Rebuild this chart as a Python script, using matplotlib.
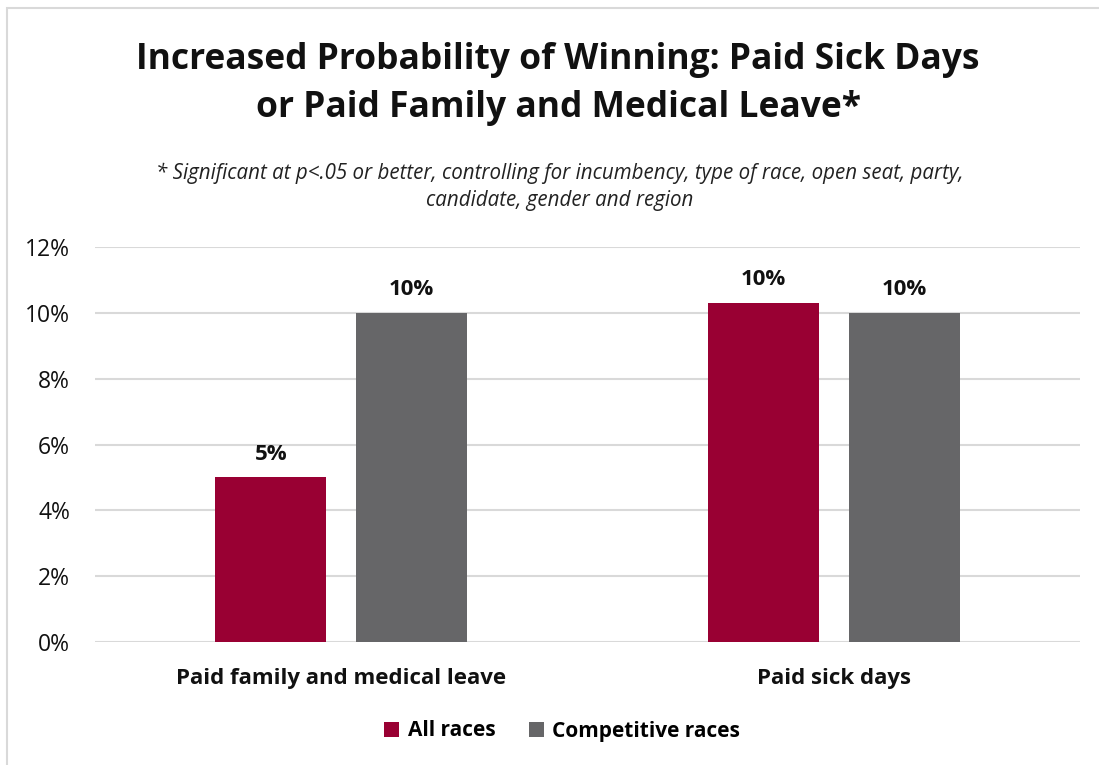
import matplotlib.pyplot as plt
import numpy as np
from matplotlib.patches import Rectangle

categories = ["Paid family and medical leave", "Paid sick days"]
all_races = [5.0, 10.3]
competitive = [10.0, 10.0]
all_labels = ["5%", "10%"]
comp_labels = ["10%", "10%"]
yticks = [0, 2, 4, 6, 8, 10, 12]

plt.rcParams['font.family'] = ['Open Sans', 'DejaVu Sans']

W, H = 1099, 765
fig = plt.figure(figsize=(W / 100, H / 100), dpi=100)
ax = fig.add_axes([95 / W, 1 - 642 / H, 985 / W, 395 / H])

# outer chart border (only top/left visible)
fig.add_artist(Rectangle((7 / W, -0.1), 1.2, 1.1 - 8 / H, transform=fig.transFigure,
                         fill=False, edgecolor='#d9d9d9', linewidth=1.5))

x = np.arange(len(categories))
bw = 0.225
gap = 0.061
red = '#990033'
gray = '#666668'
b1 = ax.bar(x - (bw + gap) / 2, all_races, bw, color=red, label='All races', zorder=3)
b2 = ax.bar(x + (bw + gap) / 2, competitive, bw, color=gray, label='Competitive races', zorder=3)

for bars, labels in ((b1, all_labels), (b2, comp_labels)):
    for b, t in zip(bars, labels):
        ax.annotate(t, (b.get_x() + b.get_width() / 2, b.get_height()),
                    xytext=(0, 9), textcoords='offset points', ha='center', va='bottom',
                    fontsize=16, fontweight='bold', color='#111111')

ax.set_xlim(-0.5, 1.5)
ax.set_ylim(0, 12)
ax.set_yticks(yticks)
ax.set_yticklabels([f"{v}%" for v in yticks], fontsize=16.5, color='#111111')
ax.set_xticks(x)
ax.set_xticklabels(categories, fontsize=16, fontweight='bold', color='#111111')
ax.tick_params(axis='both', length=0)
ax.tick_params(axis='y', pad=18)
ax.tick_params(axis='x', pad=19)
ax.grid(axis='y', color='#d9d9d9', linewidth=1.5, zorder=0)
for s in ax.spines.values():
    s.set_visible(False)

fig.text(558 / W, 1 - 84 / H, "Increased Probability of Winning: Paid Sick Days\nor Paid Family and Medical Leave*",
         ha='center', va='center', fontsize=25.5, fontweight='bold', linespacing=1.42, color='#111111')
fig.text(560 / W, 1 - 187 / H, "* Significant at p<.05 or better, controlling for incumbency, type of race, open seat, party,\ncandidate, gender and region",
         ha='center', va='center', fontsize=14.8, style='italic', linespacing=1.35, color='#222222')

fig.legend(handles=[b1, b2], loc='center', bbox_to_anchor=(562 / W, 1 - 731 / H), ncol=2, frameon=False,
           prop={'size': 15, 'weight': 'bold'}, handlelength=0.75, handleheight=0.75, handletextpad=0.4,
           columnspacing=1.6)

fig.savefig('out.png', dpi=100)
